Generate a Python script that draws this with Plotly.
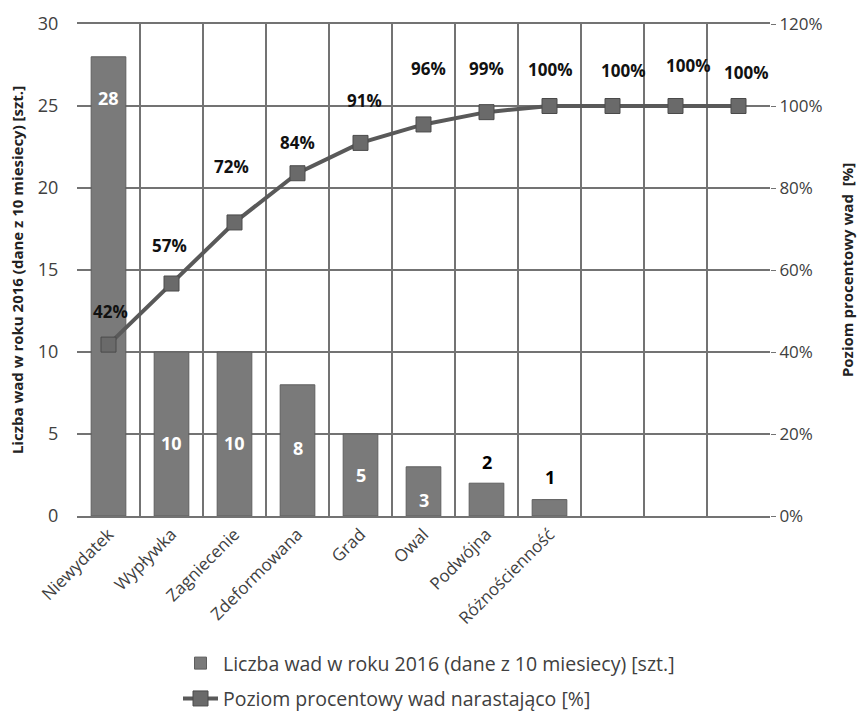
import plotly.graph_objects as go

categories = ["Niewydatek", "Wypływka", "Zagniecenie", "Zdeformowana", "Grad", "Owal",
              "Podwójna", "Różnościenność", " ", "  ", "   "]
defect_counts = [28, 10, 10, 8, 5, 3, 2, 1, 0, 0, 0]
cumulative_pct = [0.418, 0.567, 0.716, 0.836, 0.910, 0.955, 0.985, 1.0, 1.0, 1.0, 1.0]
cumulative_labels = ["42%", "57%", "72%", "84%", "91%", "96%", "99%", "100%", "100%", "100%", "100%"]
bar_labels = ["28", "10", "10", "8", "5", "3", "2", "1", "", "", ""]

# style: label offsets (pixels) and colours
bar_label_yshift = [-41, -91, -91, -63, -41, -33, 21, 23, 0, 0, 0]
bar_label_color = ["white"] * 6 + ["black"] * 5
bar_outline_width = [1] * 8 + [0] * 3
pct_label_yshift = [33, 38, 56, 31, 42, 56, 44, 37, 36, 41, 34]
pct_label_xshift = [2, -2, -3, 0, 4, 5, 0, 0, 10, 12, 7]

FONT = "Open Sans"
GRID = "#737373"

fig = go.Figure()
fig.add_trace(go.Bar(
    x=categories, y=defect_counts, yaxis="y",
    name="Liczba wad w roku 2016 (dane z 10 miesiecy) [szt.]",
    marker=dict(color="#7a7a7a", line=dict(color="#5e5e5e", width=bar_outline_width)),
    width=0.55, legendgroup="a",
))
fig.add_trace(go.Scatter(
    x=categories, y=cumulative_pct, yaxis="y2", mode="lines+markers",
    name="Poziom procentowy wad narastająco [%]",
    line=dict(color="#595959", width=4),
    marker=dict(symbol="square", size=15, color="#6a6a6a", line=dict(color="#4a4a4a", width=1)),
    legendgroup="b",
))

annotations = []
for c, v, t, s, col in zip(categories, defect_counts, bar_labels, bar_label_yshift, bar_label_color):
    if t:
        annotations.append(dict(x=c, y=v, xref="x", yref="y", text=f"<b>{t}</b>", showarrow=False,
                                yshift=s, font=dict(family=FONT, size=18, color=col)))
for c, v, t, s, xs in zip(categories, cumulative_pct, cumulative_labels, pct_label_yshift, pct_label_xshift):
    annotations.append(dict(x=c, y=v, xref="x", yref="y2", text=f"<b>{t}</b>", showarrow=False,
                            yshift=s, xshift=xs, font=dict(family=FONT, size=17, color="#111")))

fig.update_layout(
    width=861, height=713,
    margin=dict(l=77, r=91, t=24, b=197, autoexpand=False),
    paper_bgcolor="white", plot_bgcolor="white",
    font=dict(family=FONT, size=16, color="#404040"),
    annotations=annotations,
    xaxis=dict(
        type="category", tickson="boundaries", range=[-0.5, 10.5], automargin=False,
        showgrid=True, gridcolor=GRID, gridwidth=1.5,
        showline=True, linecolor=GRID, linewidth=1.5, mirror=True,
        ticks="", tickangle=-45, tickfont=dict(size=17, color="#404040"),
    ),
    yaxis=dict(
        range=[0, 30], dtick=5, showgrid=True, gridcolor=GRID, gridwidth=1.5, automargin=False,
        zeroline=False, ticks="outside", ticklen=14, tickcolor="rgba(0,0,0,0)",
        tickfont=dict(size=18, color="#404040"),
        title=dict(text="<b>Liczba wad w roku 2016 (dane z 10 miesiecy) [szt.]</b>",
                   font=dict(size=15, color="#222"), standoff=10),
    ),
    yaxis2=dict(
        overlaying="y", side="right", range=[0, 1.2], dtick=0.2, tickformat=".0%", automargin=False,
        showgrid=False, zeroline=False, ticks="outside", ticklen=5, tickcolor=GRID,
        tickfont=dict(size=17, color="#404040"),
        title=dict(text="<b>Poziom procentowy wad  [%]</b>", font=dict(size=15, color="#222"), standoff=20),
    ),
    legend=dict(
        orientation="v", x=(178 - 77) / 693, xanchor="left",
        y=-0.260, yanchor="top",
        font=dict(size=19.5, color="#404040"), tracegroupgap=7, itemwidth=35,
        bgcolor="rgba(0,0,0,0)",
    ),
)

fig.write_html("out.html")
